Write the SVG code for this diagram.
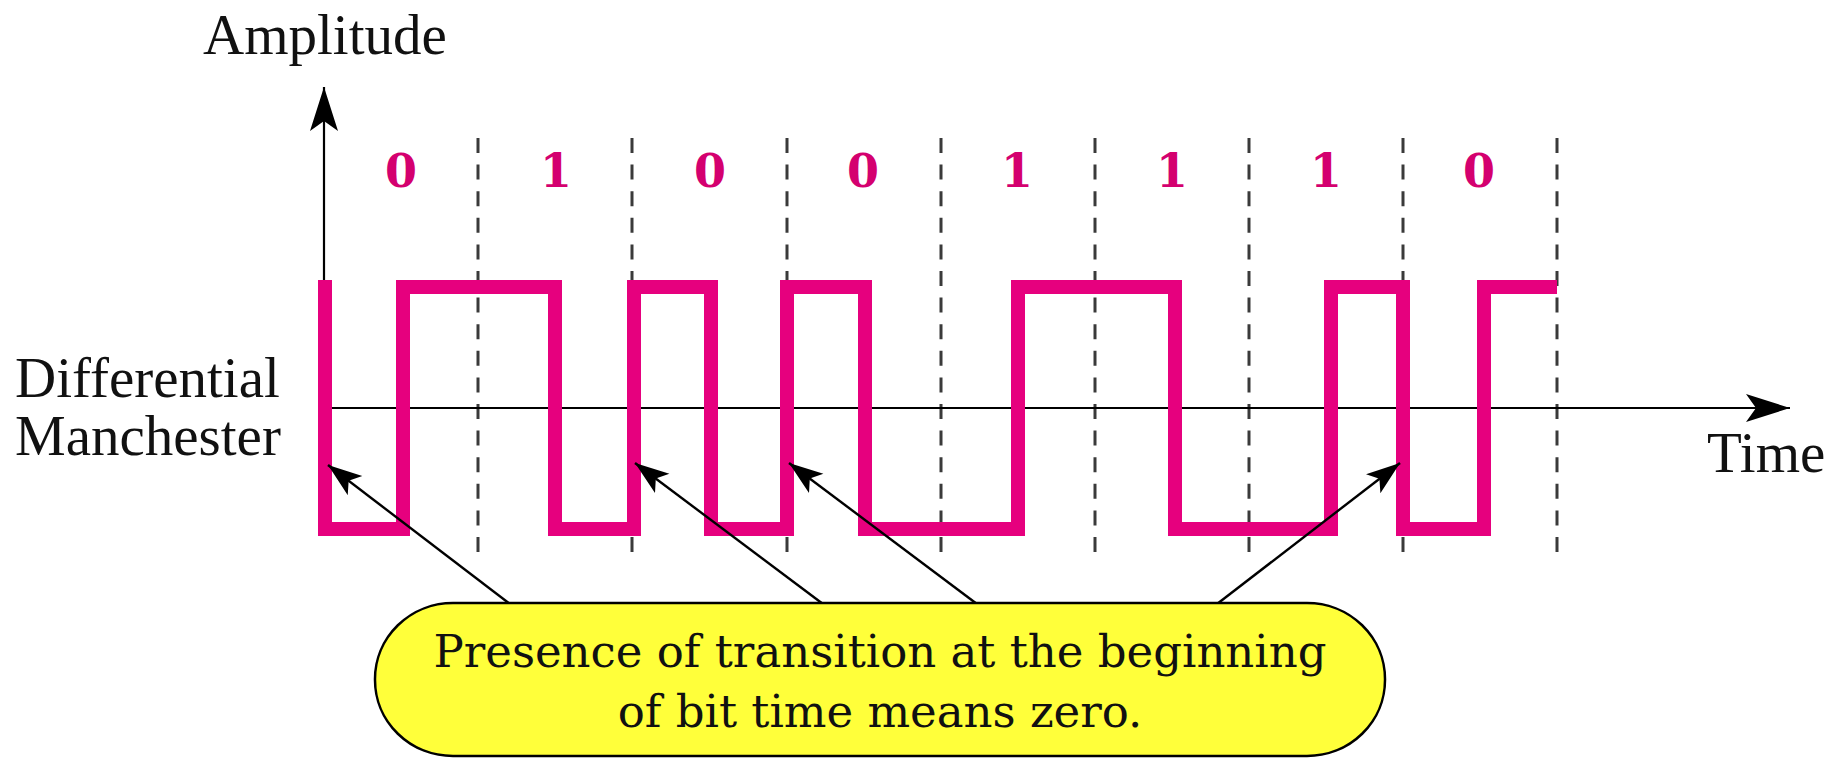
<svg xmlns="http://www.w3.org/2000/svg" width="1839" height="760" viewBox="0 0 1839 760">
  <defs>
    <style>
      .axis { stroke: #000; stroke-width: 2.2; fill: none; }
      .dash { stroke: #3a3a3a; stroke-width: 3; stroke-dasharray: 15 11.6; fill: none; }
      .sig { stroke: #E6007E; stroke-width: 14; fill: none; stroke-linejoin: miter; stroke-linecap: butt; }
      .lbl { font-family: "Liberation Serif", "Times New Roman", serif; font-size: 57px; fill: #111; }
      .bit { font-family: "DejaVu Serif", serif; font-weight: bold; font-size: 46px; fill: #D4006F; text-anchor: middle; }
      .note { font-family: "DejaVu Serif", serif; font-size: 45px; fill: #111; text-anchor: middle; }
      .conn { stroke: #000; stroke-width: 2.4; fill: none; }
    </style>
    <marker id="axisHead" markerUnits="userSpaceOnUse" markerWidth="46" markerHeight="30" refX="44" refY="14" orient="auto" viewBox="0 0 46 30">
      <path d="M0,0 L44,14 L0,28 L10,14 Z" fill="#000"/>
    </marker>
    <marker id="callHead" markerUnits="userSpaceOnUse" markerWidth="36" markerHeight="26" refX="34" refY="12" orient="auto" viewBox="0 0 36 26">
      <path d="M0,0 L34,12 L0,24 L8,12 Z" fill="#000"/>
    </marker>
  </defs>
  <rect x="0" y="0" width="1839" height="760" fill="#fff"/>

  <g id="grid">
    <line class="dash" x1="478" y1="138" x2="478" y2="553"/>
    <line class="dash" x1="632" y1="138" x2="632" y2="553"/>
    <line class="dash" x1="787" y1="138" x2="787" y2="553"/>
    <line class="dash" x1="941" y1="138" x2="941" y2="553"/>
    <line class="dash" x1="1095" y1="138" x2="1095" y2="553"/>
    <line class="dash" x1="1249" y1="138" x2="1249" y2="553"/>
    <line class="dash" x1="1403" y1="138" x2="1403" y2="553"/>
    <line class="dash" x1="1557" y1="138" x2="1557" y2="553"/>
  </g>

  <g id="axes">
    <line class="axis" x1="324" y1="408" x2="324" y2="87" marker-end="url(#axisHead)"/>
    <line class="axis" x1="324" y1="408" x2="1790" y2="408" marker-end="url(#axisHead)"/>
    <text class="lbl" x="203" y="54">Amplitude</text>
    <text class="lbl" x="1707" y="472">Time</text>
    <text class="lbl" x="15" y="397">Differential</text>
    <text class="lbl" x="15" y="455">Manchester</text>
  </g>

  <g id="signal">
    <path class="sig" d="M325,280 V529 H403 V287 H555 V529 H634 V287 H711 V529 H787 V287 H865 V529 H1018 V287 H1175 V529 H1331 V287 H1403 V529 H1484 V287 H1557"/>
  </g>

  <g id="bits">
    <text class="bit" x="401" y="187">0</text>
    <text class="bit" x="556" y="187">1</text>
    <text class="bit" x="710" y="187">0</text>
    <text class="bit" x="863" y="187">0</text>
    <text class="bit" x="1017" y="187">1</text>
    <text class="bit" x="1172" y="187">1</text>
    <text class="bit" x="1326" y="187">1</text>
    <text class="bit" x="1479" y="187">0</text>
  </g>

  <g id="connectors">
    <line class="conn" x1="510" y1="604" x2="328" y2="465" marker-end="url(#callHead)"/>
    <line class="conn" x1="823" y1="604" x2="635" y2="463" marker-end="url(#callHead)"/>
    <line class="conn" x1="977" y1="604" x2="789" y2="463" marker-end="url(#callHead)"/>
    <line class="conn" x1="1217" y1="604" x2="1400" y2="463" marker-end="url(#callHead)"/>
  </g>

  <g id="callout">
    <rect x="375" y="603" width="1010" height="153" rx="78" ry="76" fill="#FFFF3A" stroke="#000" stroke-width="2.5"/>
    <text class="note" x="880" y="667">Presence of transition at the beginning</text>
    <text class="note" x="880" y="727">of bit time means zero.</text>
  </g>
</svg>
